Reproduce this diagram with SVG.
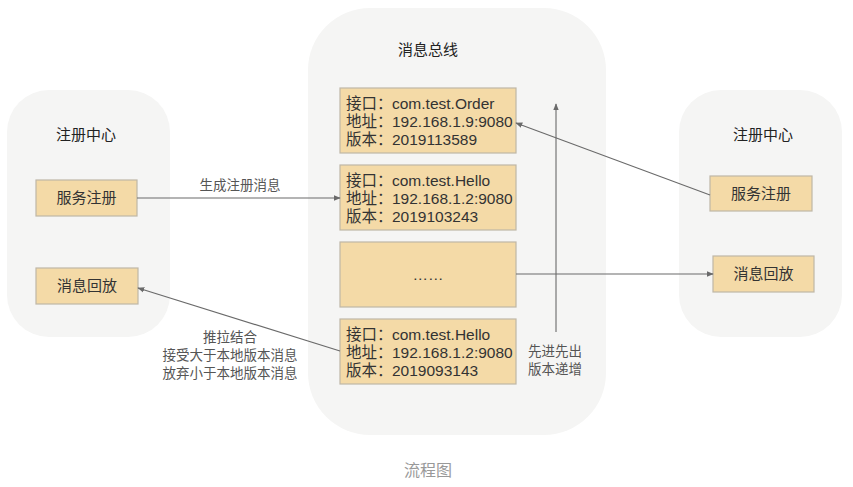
<svg xmlns="http://www.w3.org/2000/svg" width="853" height="487" viewBox="0 0 853 487">
<style>
.cont{fill:#f5f5f4;}
.box{fill:#f4daa7;stroke:#bfb7a6;stroke-width:1.2;}
text{font-family:"Liberation Sans","Noto Sans CJK SC",sans-serif;}
.t{font-size:15px;fill:#222;text-anchor:middle;}
.b{font-size:15px;fill:#333;text-anchor:middle;}
.m{font-size:15.5px;fill:#333;}
.l{font-size:13.5px;fill:#555;text-anchor:middle;}
.ln{stroke:#6a6a6a;stroke-width:1.1;fill:none;marker-end:url(#ah);}
</style>
<defs>
<marker id="ah" viewBox="0 0 10 10" refX="9" refY="5" markerWidth="7" markerHeight="7" orient="auto" markerUnits="userSpaceOnUse">
<path d="M0,1 L10,5 L0,9 z" fill="#6a6a6a"/>
</marker>
</defs>
<rect width="853" height="487" fill="#ffffff"/>
<g id="left-center">
<rect class="cont" x="7" y="90" width="163" height="247" rx="42"/>
<text class="t" x="86" y="140">注册中心</text>
</g>
<g id="left-register">
<rect class="box" x="36" y="180" width="101" height="36"/>
<text class="b" x="86.5" y="203">服务注册</text>
</g>
<g id="left-replay">
<rect class="box" x="36" y="268" width="102" height="36"/>
<text class="b" x="87" y="291">消息回放</text>
</g>
<g id="bus">
<rect class="cont" x="308" y="8" width="298" height="427" rx="62"/>
<text class="t" x="428" y="55">消息总线</text>
</g>
<g id="msg1">
<rect class="box" x="340" y="88" width="176" height="65"/>
<text class="m" x="346" y="109">接口：<tspan x="392">com.test.Order</tspan></text>
<text class="m" x="346" y="127">地址：<tspan x="392">192.168.1.9:9080</tspan></text>
<text class="m" x="346" y="145">版本：<tspan x="392">2019113589</tspan></text>
</g>
<g id="msg2">
<rect class="box" x="340" y="165" width="176" height="65"/>
<text class="m" x="346" y="186">接口：<tspan x="392">com.test.Hello</tspan></text>
<text class="m" x="346" y="204">地址：<tspan x="392">192.168.1.2:9080</tspan></text>
<text class="m" x="346" y="222">版本：<tspan x="392">2019103243</tspan></text>
</g>
<g id="msg3">
<rect class="box" x="340" y="242" width="176" height="65"/>
<text class="m" x="428" y="280" text-anchor="middle">……</text>
</g>
<g id="msg4">
<rect class="box" x="340" y="319" width="176" height="65"/>
<text class="m" x="346" y="340">接口：<tspan x="392">com.test.Hello</tspan></text>
<text class="m" x="346" y="358">地址：<tspan x="392">192.168.1.2:9080</tspan></text>
<text class="m" x="346" y="376">版本：<tspan x="392">2019093143</tspan></text>
</g>
<g id="right-center">
<rect class="cont" x="679" y="90" width="163" height="247" rx="42"/>
<text class="t" x="763" y="140">注册中心</text>
</g>
<g id="right-register">
<rect class="box" x="710" y="176" width="102" height="35"/>
<text class="b" x="761" y="199">服务注册</text>
</g>
<g id="right-replay">
<rect class="box" x="713" y="256" width="101" height="36"/>
<text class="b" x="763.5" y="279">消息回放</text>
</g>
<g id="connectors">
<line class="ln" x1="137" y1="198" x2="340" y2="198"/>
<text class="l" x="240" y="190">生成注册消息</text>
<line class="ln" x1="340" y1="351" x2="138" y2="288"/>
<text class="l" x="230" y="342">推拉结合</text>
<text class="l" x="230" y="360">接受大于本地版本消息</text>
<text class="l" x="230" y="378">放弃小于本地版本消息</text>
<line class="ln" x1="710" y1="195" x2="516" y2="123"/>
<line class="ln" x1="516" y1="274" x2="713" y2="274"/>
<line class="ln" x1="556" y1="332" x2="556" y2="104"/>
<text class="l" x="555" y="356">先进先出</text>
<text class="l" x="555" y="374">版本递增</text>
</g>
<text x="428" y="476" font-size="16" fill="#999" text-anchor="middle">流程图</text>
</svg>
